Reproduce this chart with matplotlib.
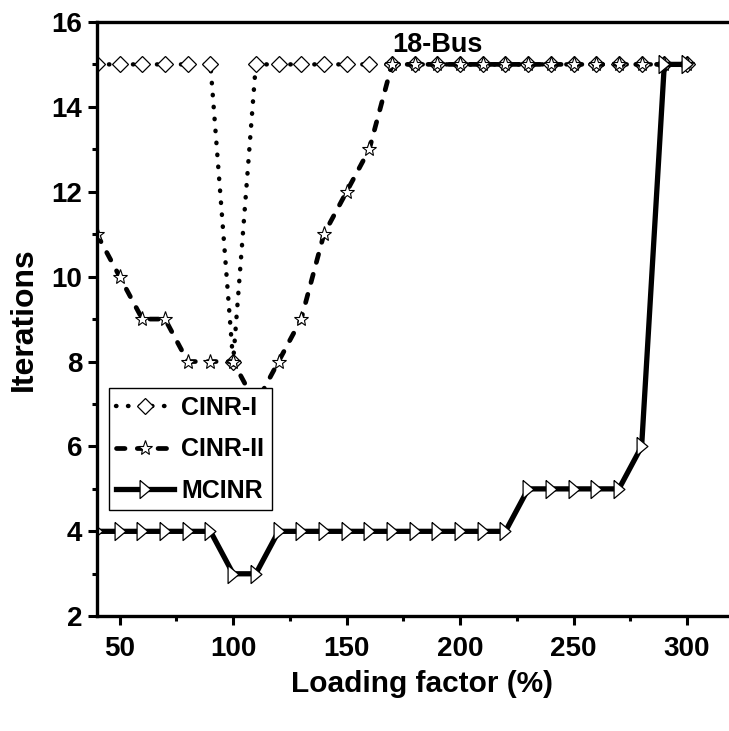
import numpy as np
import matplotlib
matplotlib.use('Agg')
import matplotlib.pyplot as plt
from matplotlib.ticker import MultipleLocator

# loading factor (%) and iteration counts for the 18-bus case
load_factor = [40, 50, 60, 70, 80, 90, 100, 110, 120, 130, 140, 150, 160, 170,
               180, 190, 200, 210, 220, 230, 240, 250, 260, 270, 280, 290, 300]
cinr_1 = [15, 15, 15, 15, 15, 15, 8, 15, 15, 15, 15, 15, 15, 15,
          15, 15, 15, 15, 15, 15, 15, 15, 15, 15, 15, 15, 15]
cinr_2 = [11, 10, 9, 9, 8, 8, 8, 7, 8, 9, 11, 12, 13, 15,
          15, 15, 15, 15, 15, 15, 15, 15, 15, 15, 15, 15, 15]
mcinr = [4, 4, 4, 4, 4, 4, 3, 3, 4, 4, 4, 4, 4, 4,
         4, 4, 4, 4, 4, 5, 5, 5, 5, 5, 6, 15, 15]

plt.rcParams['font.family'] = ['Liberation Sans', 'DejaVu Sans']
plt.rcParams['font.weight'] = 'bold'

# slim right-pointing triangle
tri = [(-0.6, 1.0), (0.6, 0.0), (-0.6, -1.0), (-0.6, 1.0)]

fig = plt.figure(figsize=(7.29, 7.31), dpi=100)
ax = fig.add_axes([0.133, 0.157, 0.867, 0.813])

ax.plot(load_factor, cinr_1, color='black', lw=3.2, linestyle=(0, (0.1, 2.6)),
        dash_capstyle='round', marker='D', ms=8, mfc='white', mec='black',
        mew=0.9, label='CINR-I')
ax.plot(load_factor, cinr_2, color='black', lw=3.4, linestyle=(0, (1.8, 2.6)),
        dash_capstyle='round', marker='*', ms=11, mfc='white', mec='black',
        mew=0.8, label='CINR-II')
ax.plot(load_factor, mcinr, color='black', lw=3.8, linestyle='-',
        marker=tri, ms=13, mfc='white', mec='black', mew=0.9, label='MCINR')

ax.set_xlim(40, 318.5)
ax.set_ylim(2, 16)
ax.xaxis.set_major_locator(MultipleLocator(50))
ax.xaxis.set_minor_locator(MultipleLocator(25))
ax.yaxis.set_major_locator(MultipleLocator(2))
ax.yaxis.set_minor_locator(MultipleLocator(1))

ax.spines['right'].set_visible(False)
for s in ['left', 'top', 'bottom']:
    ax.spines[s].set_linewidth(2.4)
ax.tick_params(which='major', direction='out', length=6.5, width=2.2, pad=4)
ax.tick_params(which='minor', direction='out', length=3.6, width=2.2)
ax.tick_params(axis='x', which='both', top=False)
ax.tick_params(axis='x', which='major', pad=8)

for lab in ax.get_yticklabels() + ax.get_xticklabels():
    lab.set_fontsize(20)
    lab.set_fontweight('bold')

ax.set_xlabel('Loading factor (%)', fontsize=21.5, fontweight='bold')
ax.xaxis.set_label_coords(0.514, -0.09)
ax.set_ylabel('Iterations', fontsize=23, fontweight='bold')
ax.yaxis.set_label_coords(-0.092, 0.5)

ax.text(170, 15.46, '18-Bus', fontsize=19.5, fontweight='bold',
        va='center', ha='left')

leg = ax.legend(loc='lower left', bbox_to_anchor=(0.019, 0.178),
                borderaxespad=0, fancybox=False, framealpha=1, numpoints=1,
                handlelength=2.3, handletextpad=0.3, borderpad=0.3,
                labelspacing=0.7, prop={'weight': 'bold', 'size': 18})
leg.get_frame().set_edgecolor('black')
leg.get_frame().set_linewidth(1.0)

fig.savefig('out.png', dpi=100)
